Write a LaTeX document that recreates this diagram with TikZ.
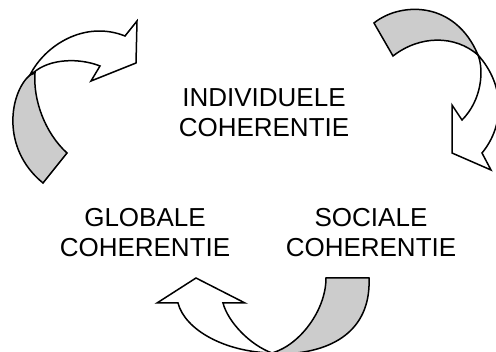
\documentclass[tikz,border=0pt]{standalone}
\usepackage{fontspec}
\setmainfont{Liberation Sans}
\usepackage{tikz}
\usetikzlibrary{positioning}

\begin{document}
\begin{tikzpicture}[x=1pt,y=-1pt,line width=1.5pt]
\tikzstyle{term}=[align=center,inner sep=0pt,font=\fontsize{26}{30}\selectfont]
\tikzstyle{faceback}=[draw,fill=black!20]
\tikzstyle{facefront}=[draw,fill=white]
\useasboundingbox (0,0) rectangle (496,352);
% de drie begrippen
\node [term] (ind) at (264,113) {INDIVIDUELE\\COHERENTIE};
\node [term] (glob) at (145,233) {GLOBALE\\COHERENTIE};
\node [term] (soc) at (371,233) {SOCIALE\\COHERENTIE};
% pijl linksboven
\path [faceback] (30,75) .. controls (10,92) and (0,148) .. (43,183) -- (67,153)
  .. controls (45,133) and (33,100) .. (35,73) -- cycle;
\path [facefront] (30,75) .. controls (45,45) and (85,20) .. (125,36) -- (137,21) -- (136,63)
  -- (91,81) -- (100,66) .. controls (80,58) and (50,58) .. (33,73) -- cycle;
% pijl rechtsboven
\path [faceback] (374,23) .. controls (400,2) and (455,0) .. (478,55)
  .. controls (455,35) and (420,35) .. (393,56) -- cycle;
\path [facefront] (478,55) .. controls (505,85) and (505,125) .. (482,153) -- (491,170)
  -- (452,153) -- (452,105) -- (462,120) .. controls (482,100) and (484,70) .. (478,55) -- cycle;
% pijl onder
\path [faceback] (272,353) .. controls (300,345) and (326,310) .. (326,278) -- (369,278)
  .. controls (371,325) and (340,352) .. (283,354) -- cycle;
\path [facefront] (178,303) .. controls (185,330) and (225,352) .. (272,353)
  .. controls (250,345) and (228,322) .. (223,303) -- (245,303) -- (196,278) -- (157,303) -- cycle;
\end{tikzpicture}
\end{document}
